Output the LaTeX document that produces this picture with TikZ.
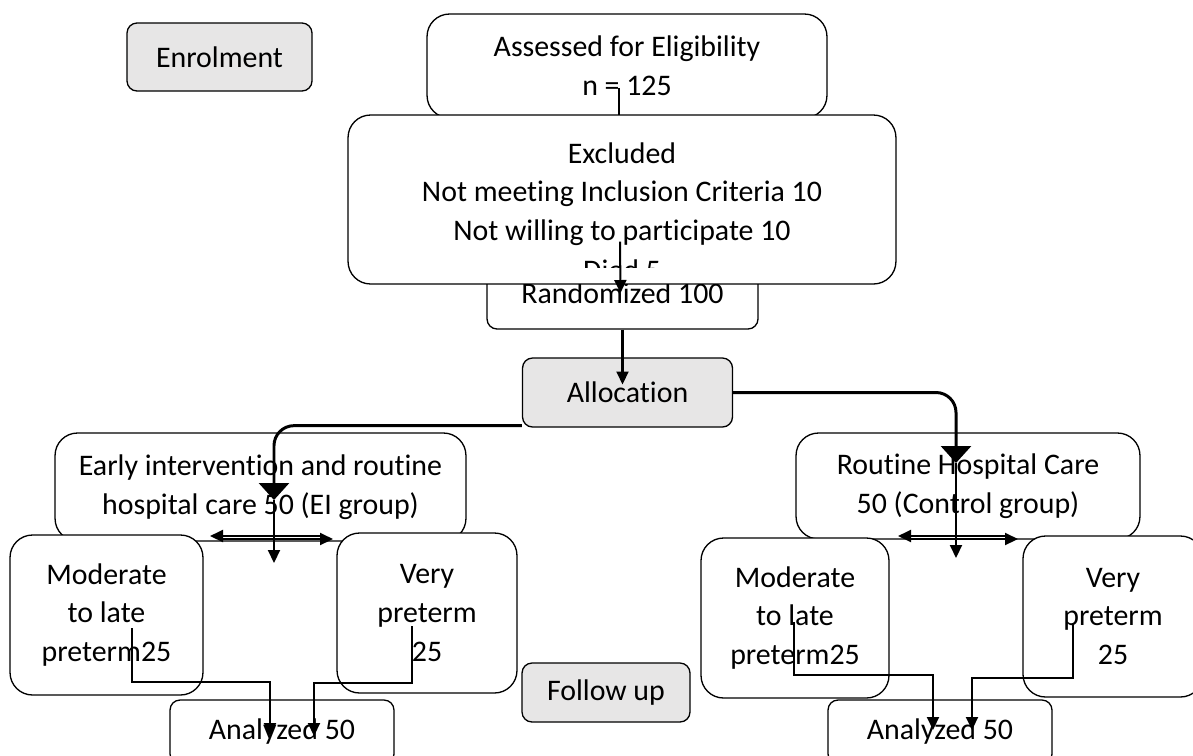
\documentclass[tikz,border=0pt]{standalone}
\usepackage{fontspec}
\setmainfont{Carlito}[Ligatures=NoCommon]
\usetikzlibrary{arrows.meta}
\definecolor{tagfill}{RGB}{231,230,230}
\begin{document}
\begin{tikzpicture}[x=0.02cm,y=-0.02cm,
    font=\fontsize{17pt}{22pt}\selectfont,
    box/.style={draw,line width=0.75pt,fill=white,rounded corners=0.45cm,align=center,inner sep=0pt},
    smallbox/.style={box,rounded corners=0.2cm},
    tag/.style={smallbox,fill=tagfill},
    link/.style={line width=0.9pt},
    arr/.style={line width=1.15pt,-{Triangle[length=0.26cm,width=0.24cm]}},
    bigarr/.style={line width=1.7pt,rounded corners=0.4cm,-{Triangle[length=0.34cm,width=0.6cm]}}]
  \clip (0,0) rectangle (1193,755);
  \fill[white] (0,0) rectangle (1193,755);
  \node[tag,minimum width=3.7cm,minimum height=1.36cm] (enrol) at (219.5,57) {Enrolment};
  \node[box,minimum width=8cm,minimum height=2.08cm] (assess) at (627,66) {Assessed for Eligibility\\n = 125};
  \draw[link] ([shift={(-8,22)}]assess.center) -- ([shift={(-8,0)}]assess.south);
  \node[smallbox,minimum width=5.42cm,minimum height=1.44cm] (rand) at (622.5,293) {Randomized 100};
  \node[box,minimum width=10.96cm,minimum height=3.38cm,text depth=9pt] (excl) at (622,199.5)
    {Excluded\\Not meeting Inclusion Criteria 10\\Not willing to participate 10};
  \begin{scope}
    \clip (excl.north west) rectangle (excl.east |- 0,267);
    \node[inner sep=0pt] (died) at (622,270) {Died 5};
  \end{scope}
  \node[tag,minimum width=4.2cm,minimum height=1.38cm] (alloc) at (627.5,392.5) {Allocation};
  \node[box,minimum width=8.22cm,minimum height=2.16cm] (ei) at (260.5,487) {Early intervention and routine\\hospital care 50 (EI group)};
  \node[box,minimum width=6.88cm,minimum height=2.12cm] (rhc) at (968,486) {Routine Hospital Care\\50 (Control group)};
  \node[box,minimum width=3.86cm,minimum height=3.2cm] (mod1) at (106.5,615) {Moderate\\to late\\preterm25};
  \node[box,minimum width=3.6cm,minimum height=3.2cm] (very1) at (427,613) {Very\\preterm\\25};
  \node[box,minimum width=3.76cm,minimum height=3.2cm] (mod2) at (795,618) {Moderate\\to late\\preterm25};
  \node[box,minimum width=3.6cm,minimum height=3.22cm] (very2) at (1113,616.5) {Very\\preterm\\25};
  \node[smallbox,minimum width=4.48cm,minimum height=1.28cm] (ana1) at (282,732) {Analyzed 50};
  \node[smallbox,minimum width=4.48cm,minimum height=1.28cm] (ana2) at (940,732) {Analyzed 50};
  \node[tag,minimum width=3.36cm,minimum height=1.18cm] (fup) at (606,692.5) {Follow up};
  \coordinate (eiin) at ([shift={(13.5,13)}]ei.center);
  \coordinate (eiout) at ([shift={(13.5,76)}]ei.center);
  \coordinate (rhcin) at ([shift={(-12,-23)}]rhc.center);
  \coordinate (rhcout) at ([shift={(-12,72)}]rhc.center);
  \draw[arr] ([shift={(-2,42)}]excl.center) -- ([shift={(-2,0)}]rand.center);
  \draw[arr] (rand.south) -- ([shift={(-5,-8)}]alloc.center);
  \draw[bigarr] ([shift={(0,-2)}]alloc.south west) -| (eiin);
  \draw[bigarr] (alloc.east) -| (rhcin);
  \draw[arr] (eiin) -- (eiout);
  \draw[arr] (rhcin) -- (rhcout);
  \draw[arr] ([shift={(64.5,49)}]ei.center) -- ([shift={(-50.5,49)}]ei.center);
  \draw[arr] ([shift={(-42.5,52)}]ei.center) -- ([shift={(72.5,52)}]ei.center);
  \draw[arr] ([shift={(42,50)}]rhc.center) -- ([shift={(-70,50)}]rhc.center);
  \draw[arr] ([shift={(-62,53)}]rhc.center) -- ([shift={(50,53)}]rhc.center);
  \draw[arr] ([shift={(25.5,13)}]mod1.center) -- ++(0,54) -| ([shift={(-12,4)}]ana1.center);
  \draw[arr] ([shift={(-15,13)}]very1.center) -- ++(0,57) -| ([shift={(32,4)}]ana1.center);
  \draw[arr] ([shift={(-1,4)}]mod2.center) -- ++(0,53) -| ([shift={(-7,-2)}]ana2.center);
  \draw[arr] ([shift={(-40,6.5)}]very2.center) -- ++(0,55) -| ([shift={(32,-2)}]ana2.center);
\end{tikzpicture}
\end{document}
